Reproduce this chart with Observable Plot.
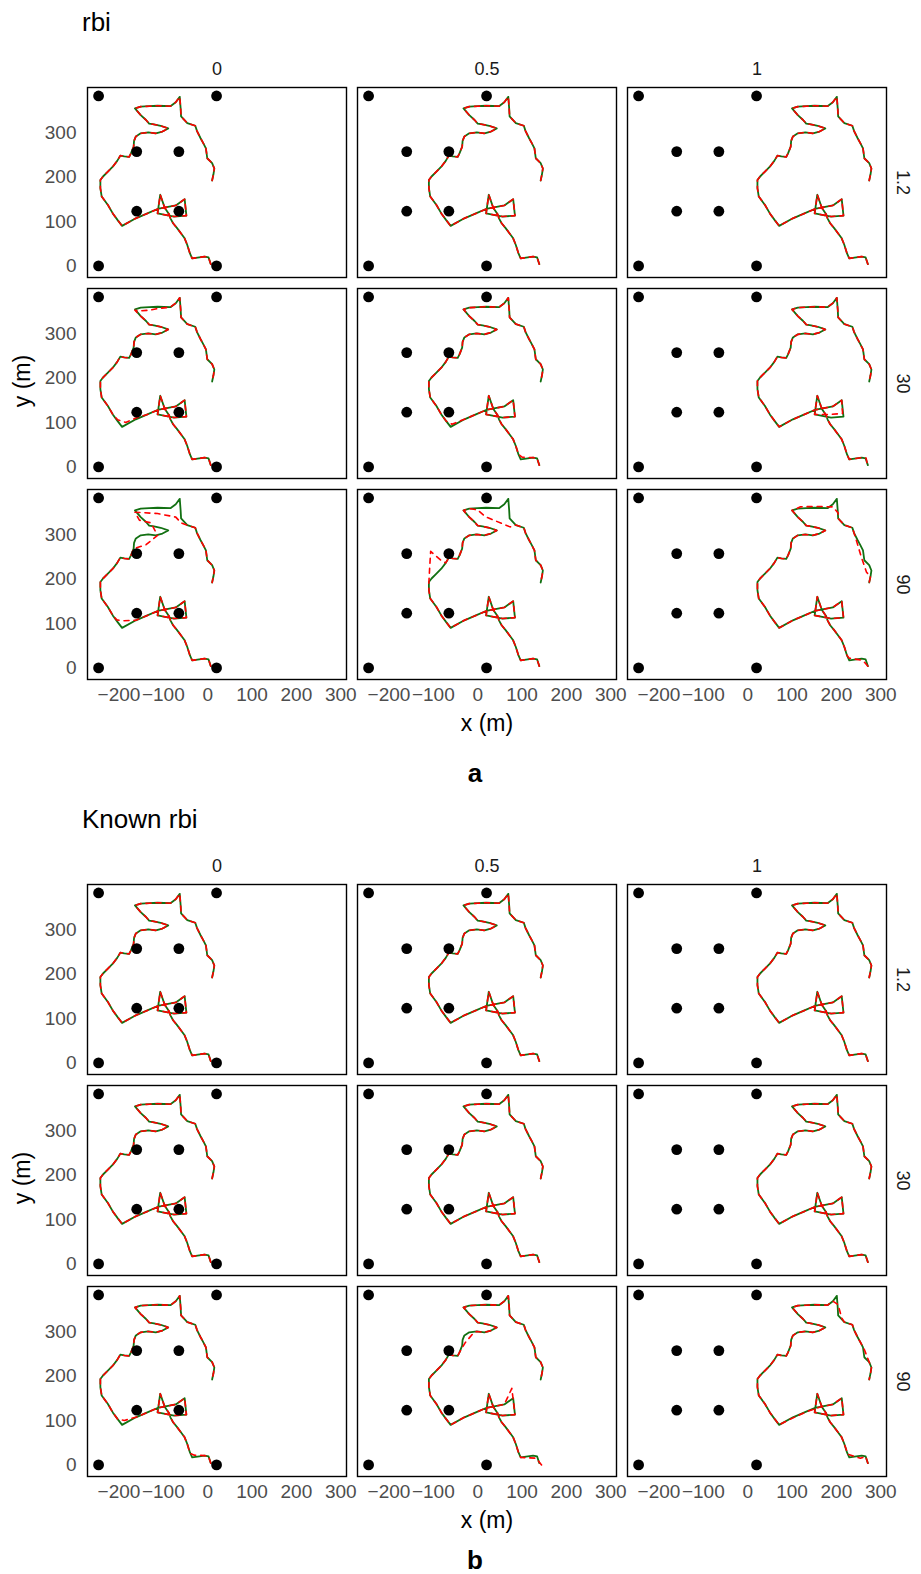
<!DOCTYPE html>
<html><head><meta charset="utf-8">
<script src="https://cdn.jsdelivr.net/npm/d3@7"></script>
<script src="https://cdn.jsdelivr.net/npm/@observablehq/plot@0.6"></script>
<style>
body{margin:0;background:#fff;font-family:"Liberation Sans",Arial,sans-serif;}
#wrap{position:relative;width:921px;height:1574px;overflow:hidden;}
.abs{position:absolute;white-space:nowrap;line-height:1;color:#000;}
</style></head><body><div id="wrap"></div>
<script>
// facet categories
const columns = ["0", "0.5", "1"];
const rows = ["1.2", "30", "90"];
// x shift of the track in each column (m)
const colShift = [0, 132, 264];
// receivers
const receiverX = [-246, -246, -160, -65, -160, -65, 20, 20];
const receiverY = [0, 382, 257, 257, 123, 123, 0, 382];
// true track (column "0")
const trackX = [7,2,-7,-35,-40,-46,-52,-60,-69,-78,-84,-87,-97,-107,-113,-76,-48,-52,-72,-98,-113,-136,-162,-193,-203,-214,-225,-239,-242,-242,-236,-225,-214,-204,-197,-188,-177,-173,-167,-166,-162,-151,-134,-117,-102,-89,-106,-121,-132,-139,-151,-164,-151,-132,-113,-84,-72,-63,-61,-60,-46,-28,-24,-16,-10,-4,-1,10,15,13,10];
const trackY = [4,19,21,17,28,47,62,73,85,96,107,116,131,160,118,111,113,150,136,131,128,118,107,90,103,118,137,156,175,193,201,212,223,236,248,246,245,253,268,281,291,298,300,298,302,309,315,318,320,328,339,354,358,359,360,359,368,380,354,336,321,315,303,287,276,264,242,231,219,206,192];
// tick values
const xTicks = [-200, -100, 0, 100, 200, 300];
const yTicks = [0, 100, 200, 300];
// where the estimated track departs from the true one (replacing points from..to)
const devA = [
  {row:"30", col:"0", from:51, to:54, xs:[-164,-151,-132,-113], ys:[352,351,352,356]},
  {row:"30", col:"0", from:22, to:24, xs:[-162,-185,-203], ys:[110,100,106]},
  {row:"30", col:"0.5", from:23, to:23, xs:[-190], ys:[96]},
  {row:"30", col:"0.5", from:3, to:3, xs:[-32], ys:[22]},
  {row:"30", col:"1", from:15, to:16, xs:[-80,-50], ys:[118,120]},
  {row:"30", col:"1", from:0, to:1, xs:[5,3], ys:[10,20]},
  {row:"90", col:"0", from:22, to:24, xs:[-162,-190,-205], ys:[107,106,108]},
  {row:"90", col:"0", from:38, to:59, xs:[-167,-139,-113,-128,-154,-164,-113,-72,-60], ys:[268,277,298,326,332,350,347,339,326]},
  {row:"90", col:"0.5", from:29, to:33, xs:[-242,-240,-238,-215,-204], ys:[193,230,262,242,236]},
  {row:"90", col:"0.5", from:53, to:59, xs:[-132,-115,-59], ys:[355,340,317]},
  {row:"90", col:"1", from:52, to:58, xs:[-145,-110,-72,-60], ys:[362,363,362,348]},
  {row:"90", col:"1", from:62, to:68, xs:[-20,-8,4], ys:[290,250,215]},
  {row:"90", col:"1", from:1, to:3, xs:[0,-10,-35], ys:[12,18,22]}
];
const devB = [
  {row:"90", col:"0", from:23, to:23, xs:[-188], ys:[100]},
  {row:"90", col:"0", from:3, to:4, xs:[-30,-40], ys:[22,26]},
  {row:"90", col:"0.5", from:37, to:41, xs:[-173,-160,-140], ys:[253,275,298]},
  {row:"90", col:"0.5", from:17, to:17, xs:[-55], ys:[172]},
  {row:"90", col:"0.5", from:0, to:2, xs:[12,0], ys:[0,15]},
  {row:"90", col:"1", from:56, to:59, xs:[-72,-60,-52], ys:[368,360,330]},
  {row:"90", col:"1", from:63, to:66, xs:[-14,-2], ys:[283,262]},
  {row:"90", col:"1", from:19, to:22, xs:[-98,-130,-170], ys:[131,120,102]},
  {row:"90", col:"1", from:2, to:4, xs:[-10,-38], ys:[15,24]}
];

const receivers = receiverX.map((x, i) => ({x, y: receiverY[i]}));

function buildRows(devs) {
  const trueRows = [], estRows = [];
  rows.forEach(row => columns.forEach((col, ci) => {
    const shift = colShift[ci];
    let pts = trackX.map((x, i) => [x, trackY[i]]);
    const ds = devs.filter(d => d.row === row && d.col === col).sort((a, b) => b.from - a.from);
    for (const d of ds) pts.splice(d.from, d.to - d.from + 1, ...d.xs.map((x, i) => [x, d.ys[i]]));
    trackX.forEach((x, i) => trueRows.push({row, col, x: x + shift, y: trackY[i]}));
    pts.forEach(([x, y]) => estRows.push({row, col, x: x + shift, y}));
  }));
  return {trueRows, estRows};
}

const wrap = document.getElementById("wrap");
function addText(txt, css) {
  const d = document.createElement("div");
  d.className = "abs";
  d.textContent = txt;
  Object.assign(d.style, css);
  wrap.appendChild(d);
  return d;
}

function panel(devs, off, title, letter, xLabY, letterY) {
  const {trueRows, estRows} = buildRows(devs);
  const chart = Plot.plot({
    width: 921, height: 669,
    marginLeft: 86, marginRight: 33, marginTop: 46, marginBottom: 30,
    style: {fontFamily: "Liberation Sans, Arial, sans-serif", fontSize: "19px", color: "#4d4d4d", background: "white"},
    fx: {domain: columns, axis: null, paddingInner: 0.04, paddingOuter: 0},
    fy: {domain: rows, axis: null, paddingInner: 0.055, paddingOuter: 0},
    x: {domain: [-271, 313], ticks: xTicks, tickSize: 0, tickPadding: 8, label: null},
    y: {domain: [-26, 401], ticks: yTicks, tickSize: 0, tickPadding: 11, label: null},
    marks: [
      Plot.line(trueRows, {x: "x", y: "y", fx: "col", fy: "row", stroke: "#127012", strokeWidth: 1.8}),
      Plot.line(estRows, {x: "x", y: "y", fx: "col", fy: "row", stroke: "#ff0000", strokeWidth: 1.6, strokeDasharray: "5,5"}),
      Plot.dot(receivers, {x: "x", y: "y", r: 5.4, fill: "black", stroke: null}),
      Plot.text(columns, {fx: d => d, fy: () => rows[0], text: d => d, frameAnchor: "top", lineAnchor: "middle", textAnchor: "middle", dy: -18, fill: "#1a1a1a", fontSize: 18}),
      Plot.text(rows, {fy: d => d, fx: () => columns[2], text: d => d, frameAnchor: "right", lineAnchor: "middle", textAnchor: "middle", dx: 16, rotate: 90, fill: "#1a1a1a", fontSize: 18}),
      Plot.frame({stroke: "black", strokeWidth: 1.4})
    ]
  });
  chart.style.position = "absolute";
  chart.style.left = "0px";
  chart.style.top = (40 + off) + "px";
  wrap.appendChild(chart);
  addText(title, {left: "82px", top: (9 + off) + "px", fontSize: "26px"});
  addText("y (m)", {left: "22px", top: (381 + off) + "px", fontSize: "23px", transform: "translate(-50%,-50%) rotate(-90deg)"});
  addText("x (m)", {left: "487px", top: xLabY + "px", fontSize: "23px", transform: "translate(-50%,-50%)"});
  addText(letter, {left: "475px", top: letterY + "px", fontSize: "26px", fontWeight: "bold", transform: "translate(-50%,-50%)"});
}

panel(devA, 0, "rbi", "a", 723, 773);
panel(devB, 797, "Known rbi", "b", 1520, 1560);
</script>
</body></html>
